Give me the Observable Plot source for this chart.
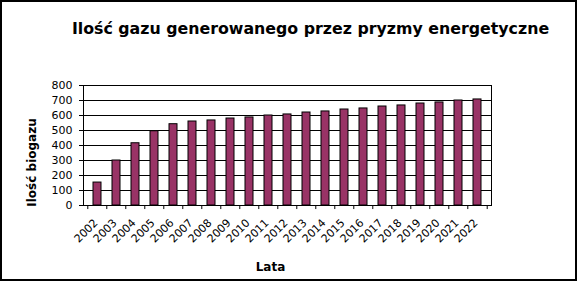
<!DOCTYPE html>
<html><head><meta charset="utf-8">
<script src="https://cdn.jsdelivr.net/npm/d3@7"></script>
<script src="https://cdn.jsdelivr.net/npm/@observablehq/plot@0.6"></script>
<style>
html,body{margin:0;padding:0;background:#fff;}
#wrap{position:relative;width:577px;height:281px;overflow:hidden;background:#fff;}
#wrap svg{position:absolute;left:0;top:0;}
#border{position:absolute;left:0;top:0;width:577px;height:281px;box-sizing:border-box;border:2px solid #000;pointer-events:none;}
</style></head><body>
<div id="wrap"><div id="border"></div></div>
<script>
const years = [2002,2003,2004,2005,2006,2007,2008,2009,2010,2011,2012,2013,2014,2015,2016,2017,2018,2019,2020,2021,2022];
const gas = [153,300,415,495,542,560,567,580,587,600,607,620,627,640,647,660,667,680,687,700,707];
const yTicks = [0,100,200,300,400,500,600,700,800];
const title = "Ilość gazu generowanego przez pryzmy energetyczne";
const yLabel = "Ilość biogazu";
const xLabel = "Lata";

const data = years.map((y, i) => ({year: String(y), gas: gas[i]}));
const W = 577, H = 281, mL = 83, mR = 86, mT = 85, mB = 76;
const step = (W - mL - mR) / years.length;
const yearStr = years.map(String);

const chart = Plot.plot({
  width: W, height: H,
  marginLeft: mL, marginRight: mR, marginTop: mT, marginBottom: mB,
  style: {fontFamily: "DejaVu Sans", fontSize: "11px", color: "#000", background: "transparent", overflow: "visible"},
  x: {domain: yearStr, paddingInner: 0.58, paddingOuter: 0.29, label: null, axis: null},
  y: {domain: [0, 800], ticks: yTicks, label: null},
  marks: [
    Plot.gridY(yTicks, {stroke: "#000", strokeOpacity: 1}),
    Plot.barY(data, {x: "year", y: "gas", fill: "#993366", stroke: "#000", strokeWidth: 1}),
    Plot.axisY(yTicks, {tickSize: 4, tickPadding: 7, fontSize: 11, label: null}),
    Plot.ruleX(yearStr, {x: d => d, dx: -step / 2, y1: 0, y2: -27, stroke: "#000"}),
    Plot.ruleX([yearStr[yearStr.length - 1]], {x: d => d, dx: step / 2, y1: 0, y2: -27, stroke: "#000"}),
    Plot.text(yearStr, {x: d => d, frameAnchor: "bottom", dx: -1.5, dy: 15.5, rotate: -45, textAnchor: "end", lineAnchor: "middle", fontSize: 11}),
    Plot.frame({stroke: "#000"}),
    Plot.text([title], {frameAnchor: "top-left", dx: 310 - mL, dy: 33 - mT, textAnchor: "middle", lineAnchor: "bottom", fontSize: 15.8, fontWeight: "bold"}),
    Plot.text([yLabel], {frameAnchor: "top-left", dx: 35 - mL, dy: 162 - mT, rotate: -90, textAnchor: "middle", lineAnchor: "bottom", fontSize: 12, fontWeight: "bold"}),
    Plot.text([xLabel], {frameAnchor: "top-left", dx: 270 - mL, dy: 270 - mT, textAnchor: "middle", lineAnchor: "bottom", fontSize: 12, fontWeight: "bold"})
  ]
});
document.getElementById("wrap").prepend(chart);
</script>
</body></html>
